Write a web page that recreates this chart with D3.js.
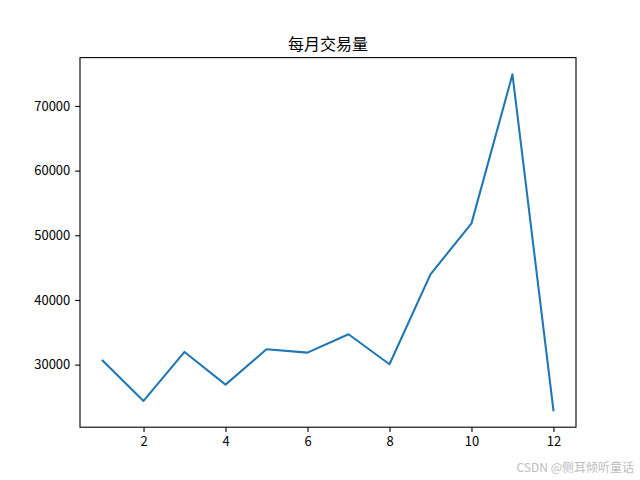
<!DOCTYPE html>
<html>
<head>
<meta charset="utf-8">
<script src="https://cdn.jsdelivr.net/npm/d3@7"></script>
<style>
  html, body { margin: 0; padding: 0; background: #fff; }
  svg { display: block; }
  text { font-family: "Noto Sans CJK SC", "DejaVu Sans", sans-serif; }
</style>
</head>
<body>
<svg id="chart" width="640" height="480"></svg>
<script>
const months = [1, 2, 3, 4, 5, 6, 7, 8, 9, 10, 11, 12];
const volumes = [30620, 24390, 31960, 26910, 32380, 31850, 34700, 30060, 43960, 51840, 74880, 22920];
const xTicks = [2, 4, 6, 8, 10, 12];
const yTicks = [30000, 40000, 50000, 60000, 70000];
const chartTitle = "每月交易量";
const watermark = "CSDN @侧耳倾听童话";

const mLeft = 80, mRight = 576, mTop = 57.6, mBottom = 427.2;
const svg = d3.select("#chart");

const xMin = d3.min(months), xMax = d3.max(months);
const xPad = (xMax - xMin) * 0.05;
const yMin = d3.min(volumes), yMax = d3.max(volumes);
const yPad = (yMax - yMin) * 0.05;

const x = d3.scaleLinear().domain([xMin - xPad, xMax + xPad]).range([mLeft, mRight]);
const y = d3.scaleLinear().domain([yMin - yPad, yMax + yPad]).range([mBottom, mTop]);

const line = d3.line().x((d, i) => x(months[i])).y(d => y(d));
svg.append("path")
  .datum(volumes)
  .attr("d", line)
  .attr("fill", "none")
  .attr("stroke", "#1f77b4")
  .attr("stroke-width", 2.08)
  .attr("stroke-linejoin", "round")
  .attr("stroke-linecap", "square");

const xAxis = svg.append("g").attr("transform", `translate(0,${mBottom})`)
  .call(d3.axisBottom(x).tickValues(xTicks).tickSize(4.86).tickPadding(4.86).tickFormat(d3.format("d")));
const yAxis = svg.append("g").attr("transform", `translate(${mLeft},0)`)
  .call(d3.axisLeft(y).tickValues(yTicks).tickSize(4.86).tickPadding(4.86).tickFormat(d3.format("d")));
[xAxis, yAxis].forEach(g => {
  g.select(".domain").remove();
  g.selectAll(".tick line").attr("stroke", "#000").attr("stroke-width", 1.1);
  g.selectAll(".tick text").attr("fill", "#000").style("font-size", "13px")
    .style("font-family", '"Noto Sans CJK SC", sans-serif');
});

svg.append("rect")
  .attr("x", mLeft).attr("y", mTop)
  .attr("width", mRight - mLeft).attr("height", mBottom - mTop)
  .attr("fill", "none").attr("stroke", "#000").attr("stroke-width", 1.1);

svg.append("text")
  .attr("x", (mLeft + mRight) / 2).attr("y", 50)
  .attr("text-anchor", "middle")
  .style("font-size", "16px")
  .attr("fill", "#000")
  .text(chartTitle);

svg.append("text")
  .attr("x", 634).attr("y", 472)
  .attr("text-anchor", "end")
  .style("font-size", "12px")
  .attr("fill", "#bdbdbd")
  .text(watermark);
</script>
</body>
</html>
